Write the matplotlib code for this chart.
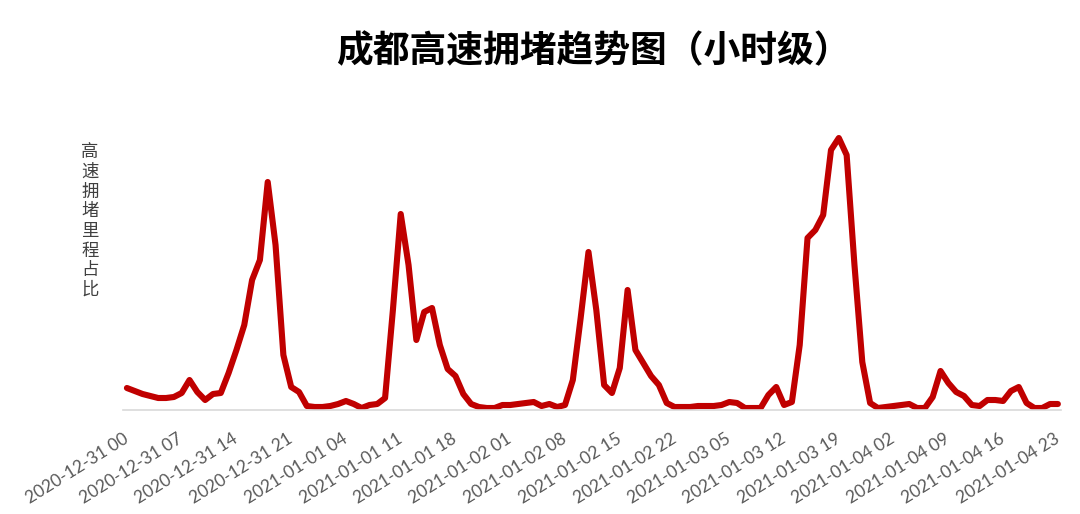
import pandas as pd
import matplotlib.pyplot as plt

# hourly timestamps, 2020-12-31 00 .. 2021-01-04 23
hours = pd.date_range("2020-12-31 00:00", "2021-01-04 23:00", freq="h")

# congestion share (%)
day1 = [2.2, 1.9, 1.6, 1.4, 1.2, 1.2, 1.3, 1.7, 3.0, 1.8, 1.0, 1.6,
        1.7, 3.7, 6.0, 8.5, 13.0, 15.0, 22.8, 16.5, 5.5, 2.3, 1.8, 0.4]
day2 = [0.3, 0.3, 0.4, 0.6, 0.9, 0.6, 0.2, 0.5, 0.6, 1.2, 10.0, 19.6,
        14.5, 7.0, 9.8, 10.2, 6.5, 4.1, 3.4, 1.6, 0.6, 0.3, 0.2, 0.2]
day3 = [0.5, 0.5, 0.6, 0.7, 0.8, 0.4, 0.6, 0.3, 0.5, 3.0, 9.2, 15.8,
        10.0, 2.5, 1.7, 4.2, 12.0, 6.0, 4.7, 3.4, 2.5, 0.7, 0.3, 0.3]
day4 = [0.3, 0.4, 0.4, 0.4, 0.5, 0.8, 0.7, 0.2, 0.2, 0.2, 1.5, 2.3,
        0.5, 0.8, 6.5, 17.2, 18.0, 19.5, 26.0, 27.2, 25.5, 14.5, 4.8, 0.7]
day5 = [0.2, 0.3, 0.4, 0.5, 0.6, 0.2, 0.2, 1.3, 3.9, 2.7, 1.8, 1.4,
        0.5, 0.4, 1.0, 1.0, 0.9, 1.9, 2.3, 0.7, 0.2, 0.2, 0.6, 0.6]
share = day1 + day2 + day3 + day4 + day5

labels = [t.strftime("%Y-%m-%d %H") for t in hours]
tick_idx = list(range(0, len(hours), 7))

fig = plt.figure(figsize=(10.8, 5.14), dpi=100)
ax = fig.add_axes([123 / 1080, 104 / 514, 938 / 1080, 280 / 514])

x = list(range(len(share)))
ax.plot(x, share, color="#C00000", lw=4.4, solid_joinstyle="round",
        solid_capstyle="round")

ax.set_xlim(-0.5, 119.4)
ax.set_ylim(0, 28)
ax.set_yticks([])
for s in ["top", "right", "left"]:
    ax.spines[s].set_visible(False)
ax.spines["bottom"].set_color("#d9d9d9")
ax.spines["bottom"].set_linewidth(1.2)

ax.set_xticks(tick_idx)
ax.set_xticklabels([labels[i] for i in tick_idx], rotation=32, ha="right",
                   va="center", rotation_mode="anchor", fontsize=12.5,
                   color="#595959", family=["Lato", "DejaVu Sans"])
ax.tick_params(axis="x", length=0, pad=20)

fig.text(593 / 1080, 1 - 52 / 514, "成都高速拥堵趋势图（小时级）",
         ha="center", va="center", fontsize=26.5, fontweight="bold",
         family=["Noto Sans CJK SC", "DejaVu Sans"], color="black")

fig.text(90 / 1080, 1 - 221 / 514, "\n".join("高速拥堵里程占比"),
         ha="center", va="center", fontsize=12.5, linespacing=1.12,
         family=["Noto Sans CJK SC", "DejaVu Sans"], color="#404040")

fig.savefig("out.png", dpi=100, facecolor="white")
